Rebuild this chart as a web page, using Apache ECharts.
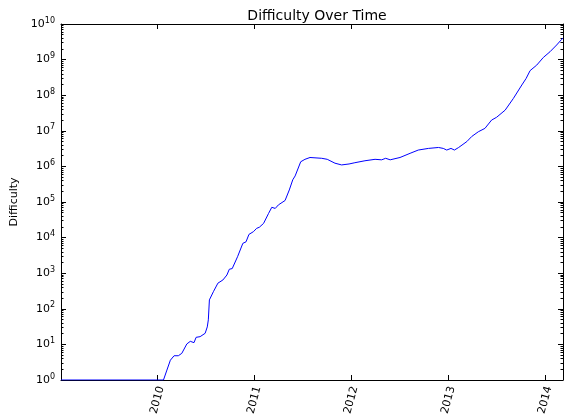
<!DOCTYPE html>
<html>
<head>
<meta charset="utf-8">
<title>Difficulty Over Time</title>
<script src="https://cdn.jsdelivr.net/npm/echarts@6/dist/echarts.min.js"></script>
<style>
  html, body { margin: 0; padding: 0; background: #fff; }
  #main { width: 564px; height: 418px; }
</style>
</head>
<body>
<div id="main"></div>
<script>
// 数据：日期与难度值
var dates = [
  '2009-01-03', '2010-01-24', '2010-02-06', '2010-02-19', '2010-03-05', '2010-03-21',
  '2010-04-03', '2010-04-22', '2010-05-05', '2010-05-19', '2010-05-27', '2010-06-11',
  '2010-06-30', '2010-07-08', '2010-07-12', '2010-07-16', '2010-07-31', '2010-08-17',
  '2010-09-05', '2010-09-20', '2010-09-29', '2010-10-10', '2010-10-30', '2010-11-19',
  '2010-12-01', '2010-12-12', '2010-12-29', '2011-01-10', '2011-01-20', '2011-02-05',
  '2011-02-24', '2011-03-08', '2011-03-21', '2011-04-02', '2011-04-27', '2011-05-13',
  '2011-05-26', '2011-06-04', '2011-06-25', '2011-07-11', '2011-07-30', '2011-09-12',
  '2011-10-03', '2011-11-01', '2011-11-26', '2011-12-24', '2012-01-15', '2012-02-22',
  '2012-03-31', '2012-04-25', '2012-05-10', '2012-05-27', '2012-07-03', '2012-08-10',
  '2012-09-10', '2012-10-18', '2012-11-25', '2012-12-13', '2012-12-26', '2013-01-11',
  '2013-01-24', '2013-02-09', '2013-03-12', '2013-03-30', '2013-04-24', '2013-05-19',
  '2013-06-13', '2013-07-02', '2013-08-03', '2013-09-03', '2013-10-05', '2013-10-21',
  '2013-11-05', '2013-11-30', '2013-12-25', '2014-01-19', '2014-02-13', '2014-03-04',
  '2014-03-09'
];
var difficulty = [
  1, 1, 1.9, 3.6, 4.8, 4.8,
  5.6, 10.3, 12.2, 11.2, 15.8, 16.5,
  20.5, 31, 49, 178, 302, 525,
  646, 890, 1290, 1350, 2900, 6900,
  7600, 12300, 14700, 18200, 19500, 25000,
  48000, 71000, 66000, 83000, 110000, 218000,
  420000, 540000, 1350000, 1580000, 1780000, 1690000,
  1580000, 1230000, 1100000, 1170000, 1270000, 1440000,
  1580000, 1530000, 1690000, 1530000, 1780000, 2330000,
  2880000, 3200000, 3400000, 3200000, 2880000, 3200000,
  2880000, 3400000, 5000000, 6900000, 9400000, 11700000,
  20000000, 24000000, 38000000, 81000000, 194000000, 295000000,
  490000000, 700000000, 1150000000, 1660000000, 2570000000, 3700000000,
  4000000000
];
// 刻度
var yearTicks = ['2010-01-01', '2011-01-01', '2012-01-01', '2013-01-01', '2014-01-01'];
var decades = [0, 1, 2, 3, 4, 5, 6, 7, 8, 9, 10];
var minorMults = [2, 3, 4, 5, 6, 7, 8, 9];
var xMin = '2009-01-03', xMax = '2014-03-09';

function ts(s) { return Date.parse(s + 'T00:00:00Z'); }

// 对数副刻度位置（以指数表示）
var minorPos = [];
decades.slice(0, -1).forEach(function(n) {
  minorMults.forEach(function(m) {
    minorPos.push(n + Math.log10(m));
  });
});
var yearPos = yearTicks.map(ts);

var chart = echarts.init(document.getElementById('main'));
var font = 'DejaVu Sans';

function xAxisCfg(pos, showLabel) {
  return {
    type: 'value',
    position: pos,
    min: ts(xMin),
    max: ts(xMax),
    scale: true,
    axisLine: { show: true, onZero: false, lineStyle: { color: '#000', width: 1 } },
    axisTick: { show: true, inside: true, length: 5, customValues: yearPos, lineStyle: { color: '#000' } },
    axisLabel: {
      show: showLabel,
      customValues: yearPos,
      rotate: 75,
      align: 'center',
      verticalAlign: 'middle',
      margin: 20,
      color: '#000',
      fontFamily: font,
      fontSize: 11,
      formatter: function(v) { return String(new Date(v).getUTCFullYear()); }
    },
    splitLine: { show: false }
  };
}

function yLogCfg(pos, showLabel) {
  return {
    type: 'log',
    logBase: 10,
    position: pos,
    min: 1,
    max: 1e10,
    interval: 1,
    name: showLabel ? 'Difficulty' : '',
    nameLocation: 'middle',
    nameRotate: 90,
    nameGap: 38,
    nameTextStyle: { color: '#000', fontFamily: font, fontSize: 11 },
    axisLine: { show: true, lineStyle: { color: '#000', width: 1 } },
    axisTick: { show: true, inside: true, length: 5, lineStyle: { color: '#000' } },
    axisLabel: {
      show: showLabel,
      margin: 6,
      color: '#000',
      fontFamily: font,
      fontSize: 11,
      formatter: function(v) {
        return '10{sup|' + Math.round(Math.log10(v)) + '}';
      },
      rich: {
        sup: { fontSize: 8, fontFamily: font, color: '#000', verticalAlign: 'bottom', padding: [0, 0, 7, 0] }
      }
    },
    splitLine: { show: false }
  };
}

function yMinorCfg(pos) {
  return {
    type: 'value',
    position: pos,
    min: 0,
    max: 10,
    axisLine: { show: false },
    axisTick: { show: true, inside: true, length: 2.5, customValues: minorPos, lineStyle: { color: '#000' } },
    axisLabel: { show: false },
    splitLine: { show: false }
  };
}

var option = {
  animation: false,
  backgroundColor: '#fff',
  title: {
    text: 'Difficulty Over Time',
    left: 312,
    textAlign: 'center',
    top: 4,
    textStyle: { color: '#000', fontFamily: font, fontSize: 14, fontWeight: 'normal' }
  },
  grid: { left: 61, right: 1, top: 24, bottom: 38, containLabel: false },
  xAxis: [xAxisCfg('bottom', true), xAxisCfg('top', false)],
  yAxis: [yLogCfg('left', true), yMinorCfg('left'), yLogCfg('right', false), yMinorCfg('right')],
  series: [{
    type: 'line',
    xAxisIndex: 0,
    yAxisIndex: 0,
    showSymbol: false,
    symbol: 'none',
    lineStyle: { color: '#0000ff', width: 1 },
    data: dates.map(function(d, i) { return [ts(d), difficulty[i]]; })
  }]
};

chart.setOption(option);
</script>
</body>
</html>
